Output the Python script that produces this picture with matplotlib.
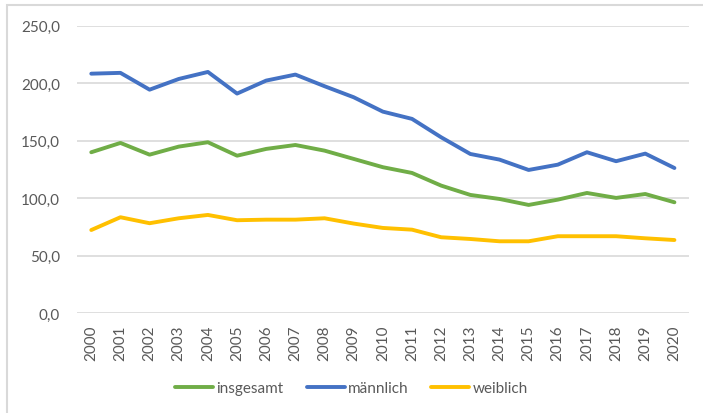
import matplotlib
matplotlib.use("Agg")
import matplotlib.pyplot as plt
from matplotlib.patches import Rectangle

years = [str(y) for y in range(2000, 2021)]
insgesamt = [140.0, 148.1, 137.9, 144.9, 148.7, 137.0, 142.9, 146.3, 141.4, 134.2,
             127.0, 122.0, 111.0, 102.9, 99.4, 94.2, 98.8, 104.6, 100.3, 103.7, 96.5]
maennlich = [208.3, 209.0, 194.4, 203.7, 209.8, 191.0, 202.3, 207.5, 197.4, 187.8,
             175.3, 169.0, 153.0, 138.5, 133.6, 124.6, 129.2, 140.0, 132.2, 138.8, 126.3]
weiblich = [72.4, 83.5, 78.3, 82.6, 85.5, 80.9, 81.4, 81.4, 82.6, 78.0,
            74.2, 72.7, 66.1, 64.6, 62.6, 62.6, 67.0, 67.0, 67.0, 65.2, 63.7]
yticks = [0, 50, 100, 150, 200, 250]
ytick_labels = ["0,0", "50,0", "100,0", "150,0", "200,0", "250,0"]
series_names = ["insgesamt", "männlich", "weiblich"]

plt.rcParams['font.family'] = ['Lato', 'DejaVu Sans']
TXT = "#595959"
GRID = "#D9D9D9"

fig = plt.figure(figsize=(7.03, 4.14), dpi=100)
ax = fig.add_axes([76.7/703, 1-314.3/414, (689-76.7)/703, (314.3-26.7)/414])

x = list(range(len(years)))
lw = 2.8
ax.plot(x, insgesamt, color="#70AD47", lw=lw, label=series_names[0], solid_capstyle="round", solid_joinstyle="round")
ax.plot(x, maennlich, color="#4472C4", lw=lw, label=series_names[1], solid_capstyle="round", solid_joinstyle="round")
ax.plot(x, weiblich, color="#FFC000", lw=lw, label=series_names[2], solid_capstyle="round", solid_joinstyle="round")

ax.set_xlim(-0.5, len(years) - 0.5)
ax.set_ylim(0, 250)
ax.set_yticks(yticks)
ax.set_yticklabels(ytick_labels, fontsize=11, color=TXT)
ax.set_xticks(x)
ax.set_xticklabels(years, rotation=90, fontsize=11, color=TXT)
ax.tick_params(axis='both', length=0)
ax.tick_params(axis='y', pad=12)
ax.tick_params(axis='x', pad=8)
ax.grid(axis='y', color=GRID, lw=1.2)
ax.set_axisbelow(True)
for s in ax.spines.values():
    s.set_visible(False)

leg = fig.legend(loc="center", bbox_to_anchor=(0.5, 1-389/414), ncol=3, frameon=False,
                 fontsize=11, handlelength=2.5, columnspacing=1.5, handletextpad=0.2)
for t in leg.get_texts():
    t.set_color(TXT)

fig.patches.append(Rectangle((6.7/703, -0.1), 1.2, 1-5.7/414+0.1, transform=fig.transFigure,
                             fill=False, edgecolor=GRID, lw=1.5))

fig.savefig("out.png", dpi=100, facecolor="white")
